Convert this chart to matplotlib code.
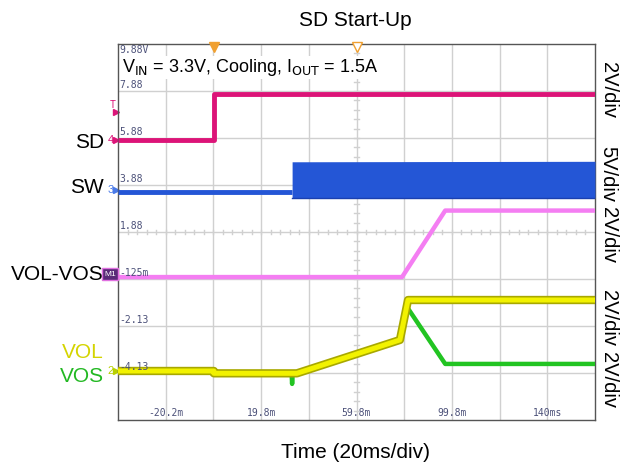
import numpy as np
import matplotlib.pyplot as plt

plt.rcParams['font.family'] = ['Liberation Sans', 'DejaVu Sans']

# --- scope capture, time in ms, levels in volts ---
t_start, t_end = -40.2, 159.8

t_sd = [-40.2, 0.0, 0.0, 159.8]
v_sd = [0.0, 0.0, 1.98, 1.98]

t_sw = [-40.2, 32.8]
v_sw = [-0.2, -0.2]
t_sw_on = [32.8, 159.8]
sw_lo = [-0.85, -0.85]
sw_hi = [3.0, 3.05]

t_diff = [-40.2, 78.9, 97.0, 159.8]
v_diff = [-0.13, -0.13, 2.70, 2.70]

t_vol = [-40.2, 0.0, 0.0, 34.8, 78.0, 81.4, 159.8]
v_vol = [0.0, 0.0, -0.1, -0.1, 1.32, 3.02, 3.02]

t_vos = [-40.2, 0.0, 0.0, 32.6, 32.8, 33.0, 34.8, 78.0, 81.0, 97.0, 159.8]
v_vos = [0.0, 0.0, -0.1, -0.1, -0.55, -0.1, -0.1, 1.32, 2.72, 0.30, 0.30]

grid_labels = ['-4.13', '-2.13', '-125m', '1.88', '3.88', '5.88', '7.88', '9.88V']
time_labels = ['-20.2m', '19.8m', '59.8m', '99.8m', '140ms']
scale_labels = ['2V/div', '5V/div', '2V/div', '2V/div', '2V/div']

# channel settings: ground position (divisions from bottom) and V/div
ch = {
    'sd': (5.947, 2.0),
    'sw': (4.894, 5.0),
    'diff': (3.106, 2.0),
    'vol': (1.043, 2.0),
}


def to_div(v, name):
    g, s = ch[name]
    return g + np.asarray(v) / s


W, H = 620, 467
fig = plt.figure(figsize=(W / 100, H / 100), dpi=100)
ax = fig.add_axes([118 / W, 1 - 420 / H, 477 / W, 376 / H])
ax.set_xlim(t_start, t_end)
ax.set_ylim(0, 8)
ax.set_xticks([])
ax.set_yticks([])
for s in ax.spines.values():
    s.set_color('#555555')
    s.set_linewidth(1.0)

# graticule
gcol = '#d0d0d0'
for i in range(1, 10):
    ax.axvline(t_start + 20 * i, color=gcol, lw=1, zorder=0)
for j in range(1, 8):
    ax.axhline(j, color=gcol, lw=1, zorder=0)
# small ticks on the centre lines
for k in range(1, 50):
    x = t_start + 4 * k
    ax.plot([x, x], [3.95, 4.05], color=gcol, lw=1, zorder=0)
for k in range(1, 40):
    y = 0.2 * k
    ax.plot([59.8 - 0.9, 59.8 + 0.9], [y, y], color=gcol, lw=1, zorder=0)

# grid level labels
for j, lab in enumerate(grid_labels, start=1):
    if j == 8:
        ax.text(-39.6, 7.97, lab, fontsize=7, family='DejaVu Sans Mono',
                color='#4b5078', va='top', ha='left', zorder=7)
    else:
        ax.text(-39.6, j + 0.03, lab, fontsize=7, family='DejaVu Sans Mono',
                color='#4b5078', va='bottom', ha='left', zorder=7)
for i, lab in enumerate(time_labels):
    ax.text(t_start + 20 + 40 * i, 0.04, lab, fontsize=7, family='DejaVu Sans Mono',
            color='#4b5078', va='bottom', ha='center')

# traces
ax.plot(t_sd, to_div(v_sd, 'sd'), color='#dc1478', lw=3.5, solid_capstyle='butt', zorder=3)

ax.plot(t_sw, to_div(v_sw, 'sw'), color='#2456d6', lw=3.5, solid_capstyle='butt', zorder=3)
ax.fill_between(t_sw_on, to_div(sw_lo, 'sw'), to_div(sw_hi, 'sw'),
                color='#2456d6', lw=0, zorder=3)
ax.plot(t_sw_on, to_div(sw_lo, 'sw'), color='#1a40b0', lw=1, zorder=3)

ax.plot(t_diff, to_div(v_diff, 'diff'), color='#f47ef2', lw=3.2, zorder=3)

ax.plot(t_vos, to_div(v_vos, 'vol'), color='#22c422', lw=3.2, zorder=3)
ax.plot(t_vol, to_div(v_vol, 'vol'), color='#a8a800', lw=6, zorder=4)
ax.plot(t_vol, to_div(v_vol, 'vol'), color='#f2f200', lw=3.6, zorder=4)

# trigger markers on the top edge
ax.plot([0.0], [7.93], marker='v', ms=7, color='#f0a030', clip_on=False, zorder=5)
ax.plot([59.8], [7.93], marker='v', ms=7, mfc='white', mec='#f0a030', clip_on=False, zorder=5)

# channel markers on the left edge
ax.text(-41.2, 6.7, 'T', fontsize=7, color='#dc1478', ha='right', va='center', family='DejaVu Sans Mono')
ax.plot([-41.0], [6.55], marker='>', ms=5, color='#dc1478', clip_on=False)
for name, num, col in [('sd', '4', '#dc1478'), ('sw', '3', '#4a7ae8'), ('vol', '2', '#b8d000')]:
    g = ch[name][0]
    ax.text(-41.8, g, num, fontsize=8, color=col, ha='right', va='center')
    ax.plot([-40.9], [g], marker='>', ms=5, color=col, clip_on=False)
ax.text(-41.0, ch['diff'][0], 'M1', fontsize=6, color='white', ha='right', va='center',
        bbox=dict(boxstyle='square,pad=0.25', fc='#5a2a78', ec='#e070e0', lw=1))

# condition text
ax.text(-38.4, 7.5, r'V$_{\rm IN}$ = 3.3V, Cooling, I$_{\rm OUT}$ = 1.5A', fontsize=13,
        va='center', ha='left', zorder=6,
        bbox=dict(boxstyle='square,pad=0.05', fc='white', ec='none'))

# channel names
lab_x = 104 / W
for txt, yp, col in [('SD', 142, 'black'), ('SW', 188, 'black'), ('VOL-VOS', 274, 'black'),
                     ('VOL', 352, '#d4d400'), ('VOS', 377, '#22b822')]:
    fig.text(lab_x, 1 - yp / H, txt, fontsize=15, color=col, ha='right', va='center')

# volts per division on the right
for txt, yp in zip(scale_labels, [90, 174, 235, 318, 380]):
    fig.text(608 / W, 1 - yp / H, txt, fontsize=14.5, rotation=-90, ha='center', va='center')

fig.text(355 / W, 1 - 20 / H, 'SD Start-Up', fontsize=15, ha='center', va='center')
fig.text(355 / W, 1 - 452 / H, 'Time (20ms/div)', fontsize=15, ha='center', va='center')

fig.savefig('out.png', dpi=100)
